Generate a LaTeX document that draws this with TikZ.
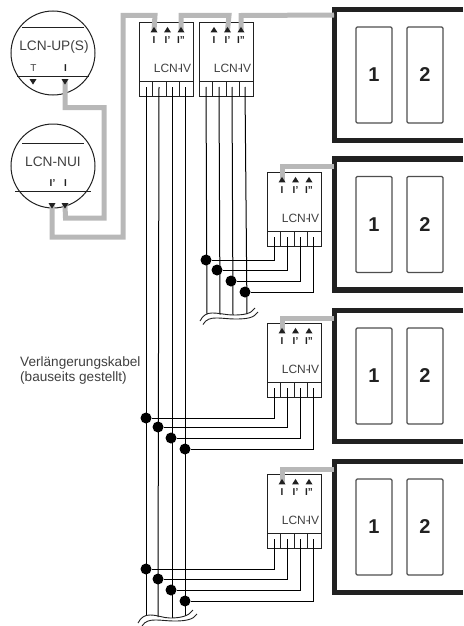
\documentclass[tikz,border=0pt]{standalone}
\usepackage{fontspec}
\setmainfont{Liberation Sans}
\definecolor{ln}{gray}{0.13}
\definecolor{gr}{gray}{0.72}
\definecolor{tx}{gray}{0.25}
\usetikzlibrary{shapes.geometric,calc}
\tikzset{
  graybus/.style={draw=gr,line width=5pt,line join=miter},
  wire/.style={draw=black,line width=1pt},
  thinline/.style={draw=ln,line width=0.9pt},
  devbox/.style={draw=ln,line width=1pt,minimum width=54pt,minimum height=74pt,inner sep=0pt,anchor=north west},
  round/.style={circle,draw=ln,line width=1pt,minimum size=84pt,inner sep=0pt},
  bigframe/.style={draw=ln,line width=5.5pt},
  slot/.style={draw=ln!80,line width=1.3pt,rounded corners=1.2pt,minimum width=36pt,minimum height=96pt,inner sep=0pt,font=\bfseries\fontsize{20}{20}\selectfont,text=ln},
  dot/.style={circle,fill=black,inner sep=0pt,minimum size=11pt},
  tri/.style={isosceles triangle,isosceles triangle apex angle=70,isosceles triangle stretches,fill=ln,inner sep=0pt,minimum height=5.5pt,minimum width=7pt},
  pinlab/.style={font=\bfseries\fontsize{10}{10}\selectfont,text=ln,inner sep=0pt},
  devlab/.style={font=\fontsize{12}{12}\selectfont,text=tx,inner sep=0pt},
  note/.style={font=\fontsize{13.6}{15.4}\selectfont,text=tx,inner sep=0pt,anchor=west,align=left}
}
% box: name, left x, top y
\newcommand{\lcnbox}[3]{%
  \node[devbox] (#1) at (#2,#3) {};
  \draw[thinline] ($(#1.north west)+(0,59)$) -- ++(54,0);
  \foreach \i in {13.5,27,40.5}{\draw[thinline] ($(#1.north west)+(\i,59)$) -- ++(0,15);}
  \coordinate (#1-a) at ($(#1.north west)+(7,65)$);
  \coordinate (#1-b) at ($(#1.north west)+(20,65)$);
  \coordinate (#1-c) at ($(#1.north west)+(33,65)$);
  \coordinate (#1-d) at ($(#1.north west)+(46,65)$);
  \coordinate (#1-p) at ($(#1.north west)+(15,8.5)$);
  \coordinate (#1-q) at ($(#1.north west)+(28.5,8.5)$);
  \coordinate (#1-r) at ($(#1.north west)+(42,8.5)$);
  \node[devlab] at ($(#1.north west)+(33.5,46)$) {LCN-\kern-2pt IV};
}
\newcommand{\lcnpins}[1]{%
  \node[tri,shape border rotate=90] at (#1-p) {};
  \node[tri,shape border rotate=90] at (#1-q) {};
  \node[tri,shape border rotate=90] at (#1-r) {};
  \node[pinlab] at ($(#1-p)+(0,9.5)$) {I};
  \node[pinlab] at ($(#1-q)+(0,9.5)$) {I'};
  \node[pinlab] at ($(#1-r)+(0,9.5)$) {I''};
}
\newcommand{\frameunit}[2]{%
  \path[bigframe,draw] (463,#2) -- (334.5,#2) -- (334.5,#2+131) -- (463,#2+131);
  \node[slot] (s1#1) at (374,#2+65.5) {1};
  \node[slot] (s2#1) at (425,#2+65.5) {2};
}
\begin{document}
\begin{tikzpicture}[x=1pt,y=-1pt]
\useasboundingbox (0,0) rectangle (463,626);
% frames
\frameunit{a}{9.5}
\frameunit{b}{159}
\frameunit{c}{310.5}
\frameunit{d}{461.5}
% devices
\lcnbox{k}{139}{22}
\lcnbox{m}{199}{22}
\lcnbox{n}{267}{172}
\lcnbox{o}{267}{323}
\lcnbox{u}{267}{474}
% round modules
\node[round] (up) at (53,53) {};
\node[round] (nui) at (53,166) {};
\draw[thinline] (22,27) -- (84,27);
\draw[thinline] (17,76) -- (89,76);
\draw[thinline] (22,143) -- (84,143);
\draw[thinline] (15,191) -- (91,191);
\node[font=\fontsize{13.7}{13.7}\selectfont,text=tx,inner sep=0pt] at (54,47) {LCN-UP(S)};
\node[font=\fontsize{13.7}{13.7}\selectfont,text=tx,inner sep=0pt] at (53,162) {LCN-NUI};
\coordinate (upT) at (33,81);
\coordinate (upI) at (65,81);
\coordinate (nuiA) at (52,205);
\coordinate (nuiB) at (65,205);
% gray bus
\coordinate (f1) at (334,15);
\coordinate (f2) at (334,166);
\coordinate (f3) at (334,318);
\coordinate (f4) at (334,469);
\draw[graybus] (upI) -- (65,107.5) -- (104,107.5) -- (104,218) -- (65.5,218) -- (nuiB);
\draw[graybus] (nuiA) -- (52,237) -- (123,237) -- (123,15.5) -- (155,15.5) -- (k-p);
\draw[graybus] (k-r) -- (181,15.5) -- (229,15.5) -- (m-q);
\draw[graybus] (m-r) -- (241,15.5) -- (f1);
\draw[graybus] (n-p) -- (n-p |- f2) -- (f2);
\draw[graybus] (o-p) -- (o-p |- f3) -- (f3);
\draw[graybus] (u-p) -- (u-p |- f4) -- (f4);
% triangles and pins
\lcnpins{k}\lcnpins{m}\lcnpins{n}\lcnpins{o}\lcnpins{u}
\node[tri,shape border rotate=-90] at (upT) {};
\node[tri,shape border rotate=-90] at (upI) {};
\node[tri,shape border rotate=-90] at (nuiA) {};
\node[tri,shape border rotate=-90] at (nuiB) {};
\node[font=\fontsize{10}{10}\selectfont,text=tx,inner sep=0pt] at (33.5,68) {T};
\node[pinlab] at (65.5,68) {I};
\node[pinlab] at (52.5,183) {I'};
\node[pinlab] at (65.5,183) {I};
% break marks
\coordinate (bk1) at (207,314);\coordinate (bk2) at (220,314.5);\coordinate (bk3) at (233,315);\coordinate (bk4) at (247,314);
\coordinate (bl1) at (146,616);\coordinate (bl2) at (158,617);\coordinate (bl3) at (172,618);\coordinate (bl4) at (185,616);
\foreach \t/\b in {a/1,b/2,c/3,d/4}{\draw[wire] (m-\t) -- (bk\b);\draw[wire] (k-\t) -- (bl\b);}
\draw[thinline] (200,321) .. controls (203,315) and (207,313) .. (212,313) .. controls (220,313) and (226,315) .. (233,315) .. controls (244,315) and (251,314) .. (255,308);
\draw[thinline] (203,324.5) .. controls (206,319) and (211,318) .. (216,318) .. controls (224,318) and (228,319) .. (235,319) .. controls (247,319) and (254,318) .. (258,312);
\draw[thinline] (138,623) .. controls (141,617) and (145,615) .. (150,615) .. controls (158,615) and (163,618) .. (170,618) .. controls (181,618) and (189,616) .. (193,610);
\draw[thinline] (142,626) .. controls (145,621) and (150,620) .. (155,620) .. controls (163,620) and (167,621) .. (174,621) .. controls (185,621) and (193,620) .. (197,614);
% junctions
\node[dot] (j1) at (206,260) {};
\node[dot] (j2) at (217,270) {};
\node[dot] (j3) at (231,281) {};
\node[dot] (j4) at (245,292) {};
\node[dot] (j5) at (146,418) {};
\node[dot] (j6) at (158,427) {};
\node[dot] (j7) at (171,438) {};
\node[dot] (j8) at (185,449) {};
\node[dot] (j9) at (146,569) {};
\node[dot] (j10) at (158,579) {};
\node[dot] (j11) at (171,590) {};
\node[dot] (j12) at (185,601) {};
\foreach \d/\j in {n/1,o/5,u/9}{
  \draw[wire] (j\j) -| (\d-a);
}
\foreach \d/\j in {n/2,o/6,u/10}{
  \draw[wire] (j\j) -| (\d-b);
}
\foreach \d/\j in {n/3,o/7,u/11}{
  \draw[wire] (j\j) -| (\d-c);
}
\foreach \d/\j in {n/4,o/8,u/12}{
  \draw[wire] (j\j) -| (\d-d);
}
\node[note] (lab) at (20,370.5) {Verlängerungskabel\\(bauseits gestellt)};
\end{tikzpicture}
\end{document}
